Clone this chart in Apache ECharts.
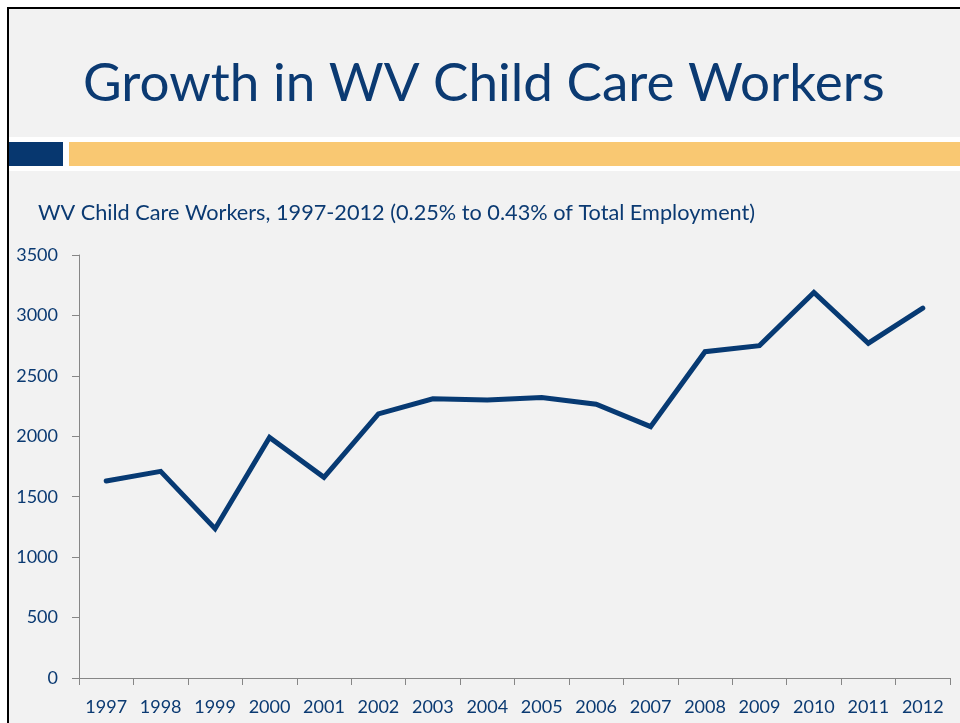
<!DOCTYPE html>
<html>
<head>
<meta charset="utf-8">
<script src="https://cdn.jsdelivr.net/npm/echarts@6/dist/echarts.min.js"></script>
<style>html,body{margin:0;padding:0;background:#fff;}#c{width:960px;height:723px;}</style>
</head>
<body>
<div id="c"></div>
<script>
const years = ['1997','1998','1999','2000','2001','2002','2003','2004','2005','2006','2007','2008','2009','2010','2011','2012'];
const workers = [1630, 1710, 1235, 1990, 1660, 2185, 2310, 2300, 2320, 2265, 2080, 2700, 2750, 3190, 2770, 3060];
const yTicks = [0, 500, 1000, 1500, 2000, 2500, 3000, 3500];

const titleText = 'Growth in WV Child Care Workers';
const subtitleText = 'WV Child Care Workers, 1997-2012 (0.25% to 0.43% of Total Employment)';
const textColor = '#0B3A72';
const lineColor = '#073A73';
const font = 'Lato, "Open Sans", sans-serif';

const chart = echarts.init(document.getElementById('c'), null, {renderer: 'canvas'});
chart.setOption({
  backgroundColor: '#ffffff',
  animation: false,
  graphic: [
    {type: 'rect', z: -20, shape: {x: 7, y: 7, width: 960, height: 723}, style: {fill: '#000'}},
    {type: 'rect', z: -19, shape: {x: 9, y: 9, width: 960, height: 723}, style: {fill: '#F2F2F2'}},
    {type: 'rect', z: -18, shape: {x: 9, y: 137, width: 960, height: 34}, style: {fill: '#FFFFFF'}},
    {type: 'rect', z: -17, shape: {x: 9, y: 142, width: 54, height: 24}, style: {fill: '#07376F'}},
    {type: 'rect', z: -17, shape: {x: 69, y: 142, width: 900, height: 24}, style: {fill: '#F9C872'}},
    {type: 'text', z: 5, x: 83, y: 84, style: {text: titleText, fill: textColor, font: '53px ' + font, verticalAlign: 'middle', align: 'left'}},
    {type: 'text', z: 5, x: 38, y: 213, style: {text: subtitleText, fill: textColor, font: '21.7px ' + font, verticalAlign: 'middle', align: 'left'}}
  ],
  grid: {left: 79, right: 10, top: 255, bottom: 45, containLabel: false},
  xAxis: {
    type: 'category',
    data: years,
    boundaryGap: true,
    axisLine: {show: true, lineStyle: {color: '#868686', width: 1}},
    axisTick: {show: true, length: 7, lineStyle: {color: '#868686'}},
    axisLabel: {color: textColor, fontSize: 18, fontFamily: font, margin: 20, interval: 0}
  },
  yAxis: {
    type: 'value',
    min: yTicks[0],
    max: yTicks[yTicks.length - 1],
    interval: 500,
    splitLine: {show: false},
    axisLine: {show: true, lineStyle: {color: '#868686', width: 1}},
    axisTick: {show: true, length: 7, lineStyle: {color: '#868686'}},
    axisLabel: {color: textColor, fontSize: 18, fontFamily: font, margin: 21, formatter: function (v) { return String(v); }}
  },
  series: [{
    type: 'line',
    data: workers,
    symbol: 'none',
    lineStyle: {color: lineColor, width: 5, cap: 'round', join: 'miter'}
  }]
});
</script>
</body>
</html>
